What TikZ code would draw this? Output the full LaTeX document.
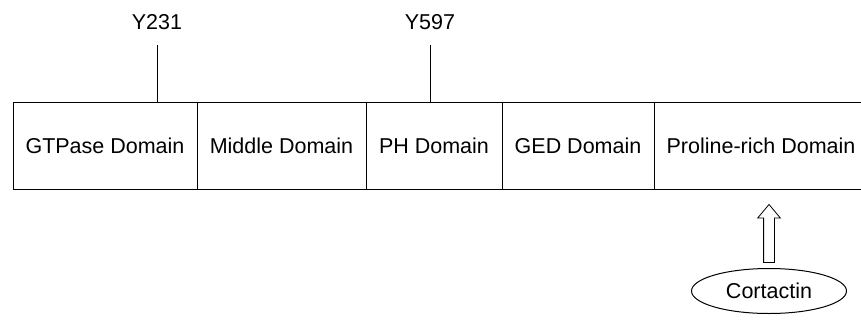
\documentclass[tikz,border=0pt]{standalone}
\usepackage{fontspec}
\setmainfont{Liberation Sans}
\usetikzlibrary{positioning,shapes.geometric,shapes.arrows}

\begin{document}
\begin{tikzpicture}[x=1pt,y=1pt]
\tikzstyle{every node}+=[inner sep=0pt, outer sep=0pt, font=\fontsize{21.5}{25}\selectfont]
\tikzset{
  domainbox/.style={draw, line width=1pt, minimum height=87pt, anchor=west},
  site/.style={line width=1pt},
  partner/.style={draw, ellipse, line width=1pt, minimum width=155pt, minimum height=45pt},
  bindarrow/.style={draw, single arrow, shape border rotate=90, line width=0.8pt,
    inner sep=5pt, minimum height=58pt, single arrow head extend=6pt,
    single arrow tip angle=80}
}
\useasboundingbox (0,0) rectangle (861,-324);
\node [domainbox, minimum width=184pt] (gtp) at (13,-145.5) {GTPase Domain};
\node [domainbox, minimum width=169pt, right=0pt of gtp] (mid) {Middle Domain};
\node [domainbox, minimum width=136pt, right=0pt of mid] (ph) {PH Domain};
\node [domainbox, minimum width=152pt, right=0pt of ph] (ged) {GED Domain};
\node [domainbox, minimum width=214pt, right=0pt of ged] (prd) {Proline-rich Domain};
\node (y231) at (157,-22) {Y231};
\draw [site] ([yshift=-23pt]y231.center) -- (y231 |- gtp.north);
\node (y597) at (430,-22) {Y597};
\draw [site] ([yshift=-23pt]y597.center) -- (y597 |- ph.north);
\node [partner] (cort) at (769,-291) {Cortactin};
\node [bindarrow, above=6pt of cort] (bind) {};
\end{tikzpicture}
\end{document}
